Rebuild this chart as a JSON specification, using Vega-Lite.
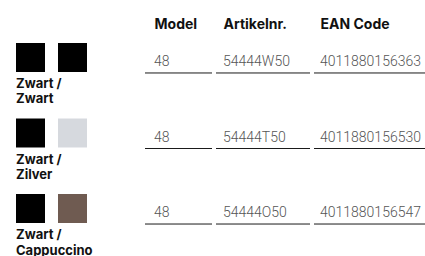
{
  "$schema": "https://vega.github.io/schema/vega-lite/v6.json",
  "padding": {"top": 17, "left": 0, "right": 0, "bottom": 0},
  "background": "white",
  "config": {"view": {"stroke": null}},
  "datasets": {
    "cellen": [
      {"kleur": "Zwart /\nZwart", "kolom": "Model", "waarde": "48"},
      {"kleur": "Zwart /\nZwart", "kolom": "Artikelnr.", "waarde": "54444W50"},
      {"kleur": "Zwart /\nZwart", "kolom": "EAN Code", "waarde": "4011880156363"},
      {"kleur": "Zwart /\nZilver", "kolom": "Model", "waarde": "48"},
      {"kleur": "Zwart /\nZilver", "kolom": "Artikelnr.", "waarde": "54444T50"},
      {"kleur": "Zwart /\nZilver", "kolom": "EAN Code", "waarde": "4011880156530"},
      {"kleur": "Zwart /\nCappuccino", "kolom": "Model", "waarde": "48"},
      {"kleur": "Zwart /\nCappuccino", "kolom": "Artikelnr.", "waarde": "54444O50"},
      {"kleur": "Zwart /\nCappuccino", "kolom": "EAN Code", "waarde": "4011880156547"}
    ],
    "vlakken": [
      {"kleur": "Zwart /\nZwart", "plek": "links", "tint": "Zwart"},
      {"kleur": "Zwart /\nZwart", "plek": "rechts", "tint": "Zwart"},
      {"kleur": "Zwart /\nZilver", "plek": "links", "tint": "Zwart"},
      {"kleur": "Zwart /\nZilver", "plek": "rechts", "tint": "Zilver"},
      {"kleur": "Zwart /\nCappuccino", "plek": "links", "tint": "Zwart"},
      {"kleur": "Zwart /\nCappuccino", "plek": "rechts", "tint": "Cappuccino"}
    ]
  },
  "spacing": 41,
  "hconcat": [
    {
      "width": 103,
      "height": 203,
      "data": {"name": "vlakken"},
      "encoding": {
        "y": {"field": "kleur", "type": "nominal", "sort": null, "scale": {"type": "point", "padding": 0.344}, "axis": null},
        "x": {"field": "plek", "type": "nominal", "scale": {"type": "point", "padding": 0.726}, "axis": null}
      },
      "layer": [
        {
          "mark": {"type": "point", "shape": "square", "size": 841, "filled": true, "opacity": 1, "strokeWidth": 0, "yOffset": -4.5},
          "encoding": {
            "color": {"field": "tint", "type": "nominal", "scale": {"domain": ["Zwart", "Zilver", "Cappuccino"], "range": ["#000000", "#d6d9de", "#6f5b51"]}, "legend": null}
          }
        },
        {
          "transform": [{"filter": {"field": "plek", "equal": "links"}}],
          "mark": {"type": "text", "align": "left", "baseline": "alphabetic", "dx": -14.5, "dy": 26, "lineBreak": "\n", "lineHeight": 15.5, "font": "Inter", "fontWeight": "bold", "fontSize": 13, "color": "#111111"},
          "encoding": {"text": {"field": "kleur"}}
        }
      ]
    },
    {
      "spacing": 2,
      "hconcat": [
        {
          "width": 67,
          "height": 203,
          "data": {"name": "cellen"},
          "transform": [{"filter": {"field": "kolom", "equal": "Model"}}],
          "encoding": {"y": {"field": "kleur", "type": "nominal", "sort": null, "scale": {"type": "point", "padding": 0.344}, "axis": null}},
          "layer": [
            {"mark": {"type": "rule", "yOffset": 11, "color": "#1a1a1a", "strokeWidth": 1}, "encoding": {}},
            {
              "mark": {"type": "text", "align": "left", "baseline": "middle", "dx": 9, "font": "Roboto", "fontWeight": 300, "fontSize": 14, "color": "#555555"},
              "encoding": {
                "x": {"field": "kolom", "type": "nominal", "scale": {"type": "point", "padding": 0, "align": 0},
                      "axis": {"orient": "top", "title": null, "domain": false, "ticks": false, "tickSize": 0, "grid": false, "labelAngle": 0, "labelAlign": "left", "labelBaseline": "bottom", "labelOffset": 9, "labelPadding": 5, "labelFont": "Inter", "labelFontWeight": "bold", "labelFontSize": 14, "labelColor": "#111111"}},
                "text": {"field": "waarde"}
              }
            }
          ]
        },
        {
          "width": 94,
          "height": 203,
          "data": {"name": "cellen"},
          "transform": [{"filter": {"field": "kolom", "equal": "Artikelnr."}}],
          "encoding": {"y": {"field": "kleur", "type": "nominal", "sort": null, "scale": {"type": "point", "padding": 0.344}, "axis": null}},
          "layer": [
            {"mark": {"type": "rule", "yOffset": 11, "color": "#1a1a1a", "strokeWidth": 1}, "encoding": {}},
            {
              "mark": {"type": "text", "align": "left", "baseline": "middle", "dx": 7, "font": "Roboto", "fontWeight": 300, "fontSize": 14, "color": "#555555"},
              "encoding": {
                "x": {"field": "kolom", "type": "nominal", "scale": {"type": "point", "padding": 0, "align": 0},
                      "axis": {"orient": "top", "title": null, "domain": false, "ticks": false, "tickSize": 0, "grid": false, "labelAngle": 0, "labelAlign": "left", "labelBaseline": "bottom", "labelOffset": 7, "labelPadding": 5, "labelFont": "Inter", "labelFontWeight": "bold", "labelFontSize": 14, "labelColor": "#111111"}},
                "text": {"field": "waarde"}
              }
            }
          ]
        },
        {
          "width": 111,
          "height": 203,
          "data": {"name": "cellen"},
          "transform": [{"filter": {"field": "kolom", "equal": "EAN Code"}}],
          "encoding": {"y": {"field": "kleur", "type": "nominal", "sort": null, "scale": {"type": "point", "padding": 0.344}, "axis": null}},
          "layer": [
            {"mark": {"type": "rule", "yOffset": 11, "color": "#1a1a1a", "strokeWidth": 1}, "encoding": {}},
            {
              "mark": {"type": "text", "align": "left", "baseline": "middle", "dx": 6, "font": "Roboto", "fontWeight": 300, "fontSize": 14, "color": "#555555"},
              "encoding": {
                "x": {"field": "kolom", "type": "nominal", "scale": {"type": "point", "padding": 0, "align": 0},
                      "axis": {"orient": "top", "title": null, "domain": false, "ticks": false, "tickSize": 0, "grid": false, "labelAngle": 0, "labelAlign": "left", "labelBaseline": "bottom", "labelOffset": 6, "labelPadding": 5, "labelFont": "Inter", "labelFontWeight": "bold", "labelFontSize": 14, "labelColor": "#111111"}},
                "text": {"field": "waarde"}
              }
            }
          ]
        }
      ]
    }
  ]
}
